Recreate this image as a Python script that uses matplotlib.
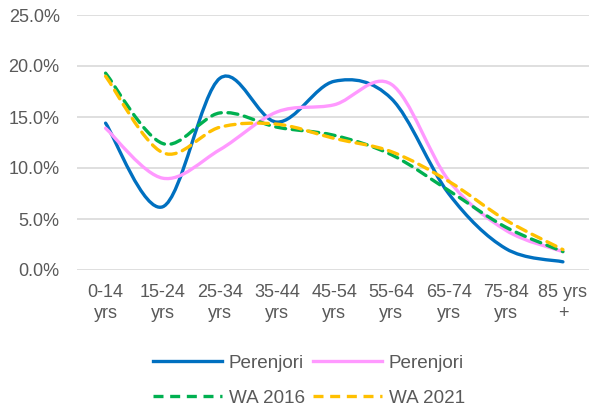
import matplotlib
matplotlib.use("Agg")
import matplotlib.pyplot as plt
import numpy as np
from matplotlib.path import Path
from matplotlib.patches import PathPatch
from matplotlib.lines import Line2D
from matplotlib.ticker import PercentFormatter

# Age groups and population share (%) for each series
age_groups = ["0-14\nyrs", "15-24\nyrs", "25-34\nyrs", "35-44\nyrs", "45-54\nyrs",
              "55-64\nyrs", "65-74\nyrs", "75-84\nyrs", "85 yrs\n+"]
perenjori_2016 = [14.4, 6.2, 18.8, 14.5, 18.5, 16.8, 7.5, 2.1, 0.8]
perenjori_2021 = [13.9, 9.0, 11.8, 15.5, 16.2, 18.2, 8.8, 3.9, 1.8]
wa_2016 = [19.3, 12.4, 15.4, 14.0, 13.2, 11.3, 7.8, 4.2, 1.8]
wa_2021 = [19.0, 11.5, 14.0, 14.3, 12.9, 11.6, 8.7, 4.9, 2.0]

TEXT = "#595959"
plt.rcParams["font.family"] = ["Liberation Sans", "DejaVu Sans"]
plt.rcParams["font.size"] = 13


def smooth_path(x, y):
    """Bezier path through the points, Catmull-Rom style like a spreadsheet's smoothed line."""
    pts = np.column_stack([x, y]).astype(float)
    ext = np.vstack([pts[0], pts, pts[-1]])
    verts = [pts[0]]
    codes = [Path.MOVETO]
    for i in range(len(pts) - 1):
        p0, p1, p2, p3 = ext[i], ext[i + 1], ext[i + 2], ext[i + 3]
        c1 = p1 + (p2 - p0) / 6.0
        c2 = p2 - (p3 - p1) / 6.0
        verts += [c1, c2, p2]
        codes += [Path.CURVE4] * 3
    return Path(verts, codes)


fig = plt.figure(figsize=(5.89, 4.07), dpi=100)
ax = fig.add_axes([77 / 589, 137 / 407, 514.5 / 589, 255 / 407])

x = np.arange(len(age_groups))
series = [
    (perenjori_2016, "Perenjori", "#0070C0", "-"),
    (wa_2016, "WA 2016", "#00B050", (0, (3, 2))),
    (perenjori_2021, "Perenjori", "#FF99FF", "-"),
    (wa_2021, "WA 2021", "#FFC000", (0, (3, 2))),
]
draw_order = [0, 2, 1, 3]
handles = []
for vals, label, color, ls in series:
    handles.append(Line2D([], [], color=color, lw=2.4, ls=ls, label=label))
for idx in draw_order:
    vals, label, color, ls = series[idx]
    patch = PathPatch(smooth_path(x, vals), facecolor="none", edgecolor=color,
                      lw=2.4, ls=ls, capstyle="round", joinstyle="round", zorder=3)
    ax.add_patch(patch)

ax.set_xlim(-0.5, len(age_groups) - 0.5)
ax.set_ylim(0, 25)
ax.set_yticks(np.arange(0, 25.1, 5))
ax.yaxis.set_major_formatter(PercentFormatter(decimals=1))
ax.set_xticks(x)
ax.set_xticklabels(age_groups, linespacing=1.3)
ax.grid(axis="y", color="#D9D9D9", lw=1.2)
ax.set_axisbelow(True)
for s in ax.spines.values():
    s.set_visible(False)
ax.tick_params(axis="both", length=0, colors=TEXT, labelsize=13)
ax.tick_params(axis="y", pad=12.5)
ax.tick_params(axis="x", pad=10)

fig.legend(handles=handles, ncol=2, loc="center", bbox_to_anchor=(309 / 589, 1 - 380.5 / 407),
           frameon=False, fontsize=13.6, labelcolor=TEXT, handlelength=3.65,
           handletextpad=0.35, columnspacing=0.45, labelspacing=0.95)

fig.savefig("out.png", dpi=100)
